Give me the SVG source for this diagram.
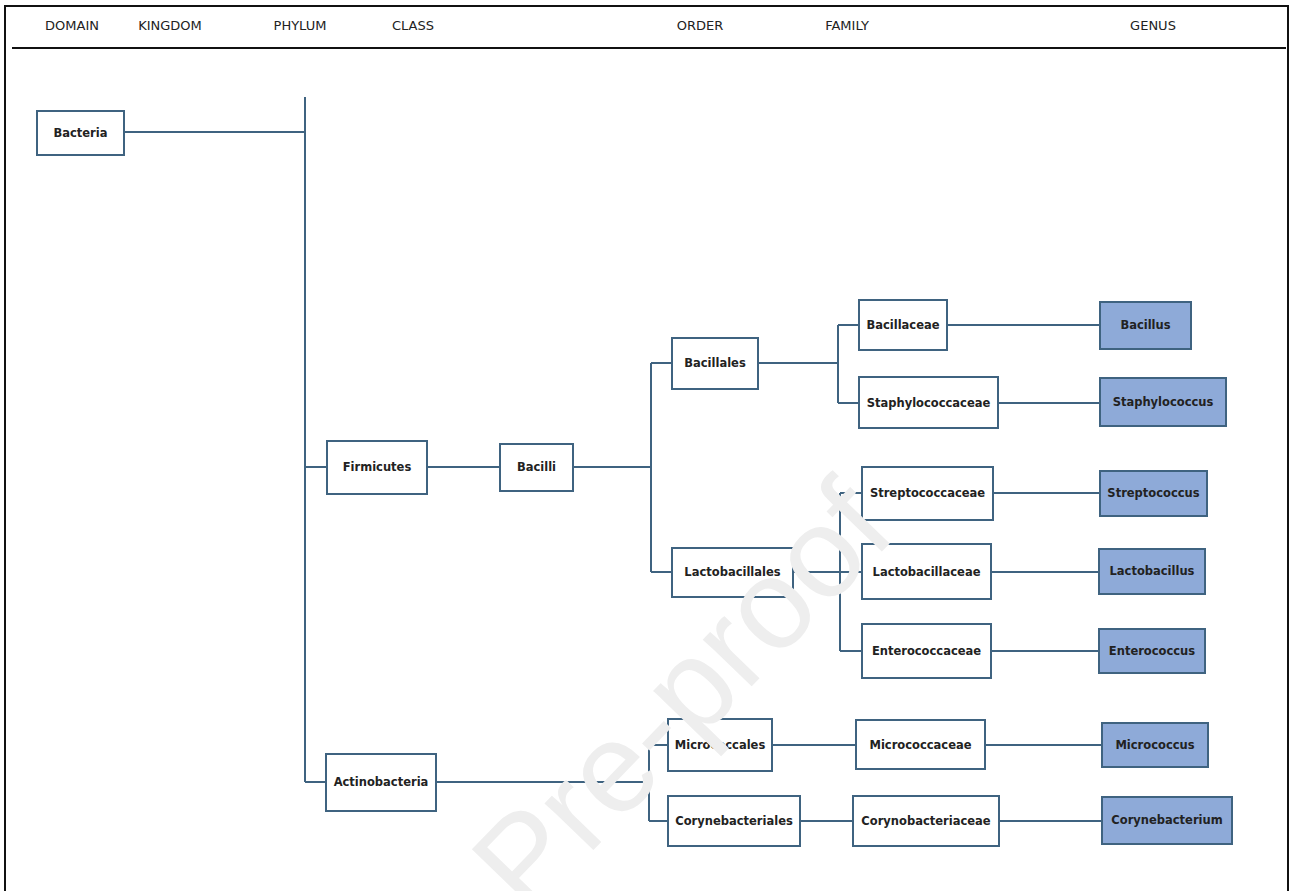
<svg xmlns="http://www.w3.org/2000/svg" width="1295" height="891" viewBox="0 0 1295 891">
<style>
.hdr{font-family:"DejaVu Sans",Verdana,sans-serif;font-size:13px;fill:#222;text-anchor:middle}
.box{fill:#ffffff;stroke:#3f6380;stroke-width:2}
.gen{fill:#8eaad8;stroke:#3f6380;stroke-width:2}
.lbl{font-family:"DejaVu Sans",Verdana,sans-serif;font-size:11.5px;font-weight:bold;fill:#222;text-anchor:middle}
.ln{stroke:#3f6380;stroke-width:2;fill:none}
.wm{font-family:"Liberation Sans",Arial,sans-serif;font-size:128px;fill:#eeeeee}
</style>
<rect width="1295" height="891" fill="#ffffff"/>
<path d="M5,891 V6 H1288 V891" fill="none" stroke="#111" stroke-width="2"/>
<line x1="12" y1="48" x2="1286" y2="48" stroke="#111" stroke-width="2"/>
<g id="headers">
<text class="hdr" x="72" y="30">DOMAIN</text>
<text class="hdr" x="170" y="30">KINGDOM</text>
<text class="hdr" x="300" y="30">PHYLUM</text>
<text class="hdr" x="413" y="30">CLASS</text>
<text class="hdr" x="700" y="30">ORDER</text>
<text class="hdr" x="847" y="30">FAMILY</text>
<text class="hdr" x="1153" y="30">GENUS</text>
</g>
<g id="connectors" class="ln">
<path d="M305,97 V782"/>
<path d="M124,132 H305"/>
<path d="M305,467 H327"/>
<path d="M305,782 H326"/>
<path d="M427,467 H500"/>
<path d="M573,467 H651"/>
<path d="M651,363 V572"/>
<path d="M651,363 H672"/>
<path d="M651,572 H672"/>
<path d="M758,363 H838"/>
<path d="M838,325 V403"/>
<path d="M838,325 H859"/>
<path d="M838,403 H859"/>
<path d="M947,325 H1100"/>
<path d="M998,403 H1100"/>
<path d="M793,572 H840"/>
<path d="M840,493 V651"/>
<path d="M840,493 H862"/>
<path d="M840,572 H862"/>
<path d="M840,651 H862"/>
<path d="M993,493 H1100"/>
<path d="M991,572 H1099"/>
<path d="M991,651 H1099"/>
<path d="M436,782 H649"/>
<path d="M649,745 V821"/>
<path d="M649,745 H668"/>
<path d="M649,821 H668"/>
<path d="M772,745 H856"/>
<path d="M985,745 H1102"/>
<path d="M800,821 H853"/>
<path d="M999,821 H1102"/>
</g>
<g id="bacteria"><rect class="box" x="37" y="111" width="87" height="44"/><text class="lbl" x="80.5" y="137">Bacteria</text></g>
<g id="firmicutes"><rect class="box" x="327" y="441" width="100" height="53"/><text class="lbl" x="377" y="471">Firmicutes</text></g>
<g id="bacilli"><rect class="box" x="500" y="444" width="73" height="47"/><text class="lbl" x="536.5" y="471">Bacilli</text></g>
<g id="actinobacteria"><rect class="box" x="326" y="754" width="110" height="57"/><text class="lbl" x="381" y="786">Actinobacteria</text></g>
<g id="bacillales"><rect class="box" x="672" y="338" width="86" height="51"/><text class="lbl" x="715" y="367">Bacillales</text></g>
<g id="lactobacillales"><rect class="box" x="672" y="548" width="121" height="49"/><text class="lbl" x="732.5" y="576">Lactobacillales</text></g>
<g id="micrococcales"><rect class="box" x="668" y="719" width="104" height="52"/><text class="lbl" x="720" y="749">Micrococcales</text></g>
<g id="corynebacteriales"><rect class="box" x="668" y="796" width="132" height="50"/><text class="lbl" x="734" y="825">Corynebacteriales</text></g>
<g id="bacillaceae"><rect class="box" x="859" y="300" width="88" height="50"/><text class="lbl" x="903" y="329">Bacillaceae</text></g>
<g id="staphylococcaceae"><rect class="box" x="859" y="377" width="139" height="51"/><text class="lbl" x="928.5" y="407">Staphylococcaceae</text></g>
<g id="streptococcaceae"><rect class="box" x="862" y="467" width="131" height="53"/><text class="lbl" x="927.5" y="497">Streptococcaceae</text></g>
<g id="lactobacillaceae"><rect class="box" x="862" y="544" width="129" height="55"/><text class="lbl" x="926.5" y="576">Lactobacillaceae</text></g>
<g id="enterococcaceae"><rect class="box" x="862" y="624" width="129" height="54"/><text class="lbl" x="926.5" y="655">Enterococcaceae</text></g>
<g id="micrococcaceae"><rect class="box" x="856" y="720" width="129" height="49"/><text class="lbl" x="920.5" y="749">Micrococcaceae</text></g>
<g id="corynobacteriaceae"><rect class="box" x="853" y="796" width="146" height="50"/><text class="lbl" x="926" y="825">Corynobacteriaceae</text></g>
<g id="bacillus"><rect class="gen" x="1100" y="302" width="91" height="47"/><text class="lbl" x="1145.5" y="329">Bacillus</text></g>
<g id="staphylococcus"><rect class="gen" x="1100" y="378" width="126" height="48"/><text class="lbl" x="1163" y="406">Staphylococcus</text></g>
<g id="streptococcus"><rect class="gen" x="1100" y="471" width="107" height="45"/><text class="lbl" x="1153.5" y="497">Streptococcus</text></g>
<g id="lactobacillus"><rect class="gen" x="1099" y="549" width="106" height="45"/><text class="lbl" x="1152" y="575">Lactobacillus</text></g>
<g id="enterococcus"><rect class="gen" x="1099" y="629" width="106" height="44"/><text class="lbl" x="1152" y="655">Enterococcus</text></g>
<g id="micrococcus"><rect class="gen" x="1102" y="723" width="106" height="44"/><text class="lbl" x="1155" y="749">Micrococcus</text></g>
<g id="corynebacterium"><rect class="gen" x="1102" y="797" width="130" height="47"/><text class="lbl" x="1167" y="824">Corynebacterium</text></g>
<text class="wm" transform="translate(528,918) rotate(-46)">Pre-proof</text>
</svg>
